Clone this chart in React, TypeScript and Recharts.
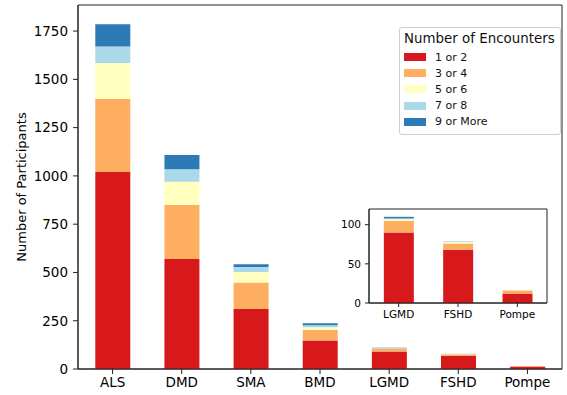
import React from 'react';
import { BarChart, Bar, XAxis, YAxis, Legend, ReferenceArea } from 'recharts';

// participants per condition, split by number of encounters
const conditions = ['ALS', 'DMD', 'SMA', 'BMD', 'LGMD', 'FSHD', 'Pompe'];
const enc1to2 = [1020, 570, 311, 147, 90, 68, 12];
const enc3to4 = [380, 280, 137, 55, 15, 8, 4];
const enc5to6 = [185, 120, 54, 14, 2, 2, 0];
const enc7to8 = [85, 65, 26, 10, 1, 1, 0];
const enc9plus = [115, 73, 15, 11, 2, 0, 0];

const mainTicks = [0, 250, 500, 750, 1000, 1250, 1500, 1750];
const insetTicks = [0, 50, 100];
const MAIN_MAX = 1885;
const INSET_MAX = 120;

const series = [
  { key: 'e12', name: '1 or 2', color: '#d7191c' },
  { key: 'e34', name: '3 or 4', color: '#fdae61' },
  { key: 'e56', name: '5 or 6', color: '#ffffbf' },
  { key: 'e78', name: '7 or 8', color: '#abd9e9' },
  { key: 'e9', name: '9 or More', color: '#2c7bb6' },
];

const rows = conditions.map((name, i) => ({
  name,
  e12: enc1to2[i],
  e34: enc3to4[i],
  e56: enc5to6[i],
  e78: enc7to8[i],
  e9: enc9plus[i],
}));

// the three smallest groups get their own zoomed panel
const insetRows = rows.slice(4);

const FONT = '"DejaVu Sans", sans-serif';
const SPINE = '#222';
const TEXT = '#000';

const EncounterLegend = (props: any) => {
  const payload = props.payload || [];
  return (
    <div
      style={{
        border: '1px solid #cfcfcf',
        borderRadius: 3,
        background: 'rgba(255,255,255,0.8)',
        padding: '3px 4px 4px 4px',
        fontFamily: FONT,
        color: '#111',
        width: 152,
      }}
    >
      <div style={{ fontSize: 13.4, lineHeight: '16px', marginBottom: 2, whiteSpace: 'nowrap' }}>
        Number of Encounters
      </div>
      {payload.map((p: any) => (
        <div key={p.value} style={{ display: 'flex', alignItems: 'center', height: 16.2 }}>
          <span style={{ width: 22, height: 8, background: p.color, display: 'inline-block', marginRight: 9 }} />
          <span style={{ fontSize: 11 }}>{p.value}</span>
        </div>
      ))}
    </div>
  );
};

// rotated y-axis title, centred on the plot height
const YTitle = (props: any) => {
  const vb = props.viewBox || {};
  const cx = 21;
  const cy = vb.y + vb.height / 2;
  return (
    <text
      x={cx}
      y={cy}
      transform={`rotate(-90, ${cx}, ${cy})`}
      textAnchor="middle"
      dominantBaseline="central"
      fontSize={13}
      fontFamily={FONT}
      fill={TEXT}
    >
      Number of Participants
    </text>
  );
};

export default function App() {
  return (
    <div style={{ position: 'absolute', left: 0, top: 0, width: 567, height: 395, background: '#fff' }}>
      <BarChart
        width={567}
        height={395}
        data={rows}
        margin={{ top: 5, right: 5, left: 0, bottom: 0 }}
        barCategoryGap="25%"
      >
        <XAxis
          dataKey="name"
          height={26}
          tickSize={5}
          tickMargin={3}
          stroke={SPINE}
          tick={{ fill: TEXT, fontSize: 13.5, fontFamily: FONT }}
          tickLine={{ stroke: SPINE }}
          interval={0}
        />
        <YAxis
          width={78}
          domain={[0, MAIN_MAX]}
          ticks={mainTicks}
          tickSize={5}
          tickMargin={5}
          stroke={SPINE}
          tick={{ fill: TEXT, fontSize: 13.5, fontFamily: FONT }}
          label={<YTitle />}
        />
        {series.map((s) => (
          <Bar key={s.key} dataKey={s.key} name={s.name} stackId="enc" fill={s.color} isAnimationActive={false} />
        ))}
        {/* frame around the plot area */}
        <ReferenceArea y1={0} y2={MAIN_MAX} fill="none" stroke={SPINE} strokeWidth={1} fillOpacity={0} />
        <Legend
          content={<EncounterLegend />}
          layout="vertical"
          align="center"
          verticalAlign="middle"
          wrapperStyle={{ position: 'absolute', left: 399, top: 27, width: 'auto' }}
        />
      </BarChart>

      <div style={{ position: 'absolute', left: 339, top: 208 }}>
        <BarChart
          width={209}
          height={117}
          data={insetRows}
          margin={{ top: 1, right: 1, left: 0, bottom: 0 }}
          barCategoryGap="25%"
        >
          <XAxis
            dataKey="name"
            height={22}
            tickSize={4}
            tickMargin={4}
            stroke={SPINE}
            tick={{ fill: TEXT, fontSize: 10.5, fontFamily: FONT }}
            interval={0}
          />
          <YAxis
            width={30}
            domain={[0, INSET_MAX]}
            ticks={insetTicks}
            tickSize={4}
            tickMargin={4}
            stroke={SPINE}
            tick={{ fill: TEXT, fontSize: 10.5, fontFamily: FONT }}
          />
          {series.map((s) => (
            <Bar key={s.key} dataKey={s.key} name={s.name} stackId="enc" fill={s.color} isAnimationActive={false} />
          ))}
          <ReferenceArea y1={0} y2={INSET_MAX} fill="none" stroke={SPINE} strokeWidth={1} fillOpacity={0} />
        </BarChart>
      </div>
    </div>
  );
}
